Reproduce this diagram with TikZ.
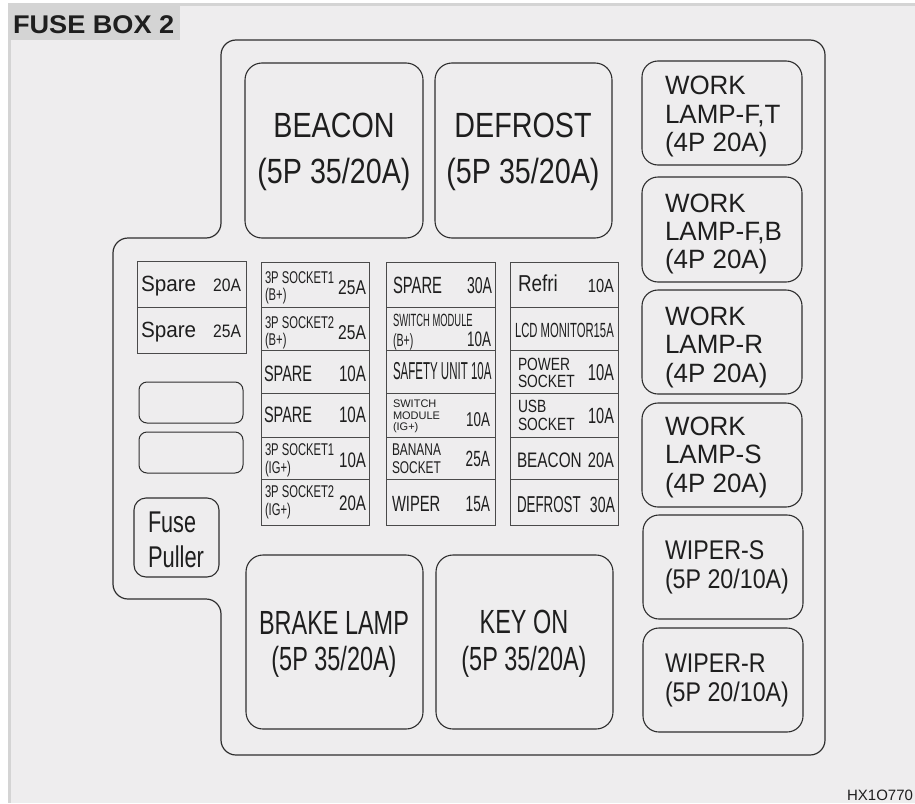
\documentclass[tikz,border=0pt]{standalone}
\usepackage{fontspec}
\usepackage{graphicx}
\setmainfont{Liberation Sans}
\newcommand\fsz[1]{\fontsize{#1}{#1}\selectfont}
\newcommand\sq[2]{\scalebox{#1}[1]{#2}}
\definecolor{bg}{HTML}{EEEDEE}
\definecolor{frame}{HTML}{D4D4D4}
\definecolor{ink}{HTML}{1E1E1E}
\definecolor{edge}{HTML}{2E2E2E}
\definecolor{celledge}{HTML}{4A4A4A}
\newcommand\lbl[6]{\node[txt,anchor=#1,font=\fsz{#4}] (#2) at (#3) {\sq{#5}{#6}};}
\begin{document}
\begin{tikzpicture}[x=1pt,y=-1pt,
  txt/.style={inner sep=0pt,outer sep=0pt,text=ink},
  outline/.style={draw=edge,line width=1.2pt},
  relay/.style={draw=edge,line width=1.1pt,rounded corners=17pt},
  lamp/.style={draw=edge,line width=1.1pt,rounded corners=16pt},
  cell/.style={draw=celledge,line width=0.9pt},
  blank/.style={draw=edge,line width=1pt,rounded corners=8pt}]
\useasboundingbox (0,0) rectangle (915,803);
% background and frame
\fill[white] (0,0) rectangle (915,803);
\fill[bg] (8,3) rectangle (915,803);
\fill[frame] (8,3) rectangle (915,5.5);
\fill[frame] (8,3) rectangle (10.5,803);
\fill[frame] (8,3) rectangle (180,40);
\node[txt,anchor=base west,font=\fsz{25.6}\bfseries] (title) at (13,33) {\sq{1.06}{FUSE BOX 2}};
% outer housing outline
\draw[outline,rounded corners=15pt] (500,40) -- (825,40) -- (825,755) -- (221,755) -- (221,599) -- (113,599) -- (113,238) -- (221,238) -- (221,40) -- cycle;
% big relays
\draw[relay] (245,63) rectangle (423,238);
\draw[relay] (435,63) rectangle (612,238);
\draw[relay] (246,555) rectangle (423,729);
\draw[relay] (436,555) rectangle (613,729);
\lbl{base}{beacA}{334,137}{35}{0.82}{BEACON}
\lbl{base}{beacB}{334,183}{35}{0.82}{(5P 35/20A)}
\lbl{base}{defA}{523,137}{35}{0.82}{DEFROST}
\lbl{base}{defB}{523,183}{35}{0.82}{(5P 35/20A)}
\lbl{base}{brkA}{334,634}{33.5}{0.70}{BRAKE LAMP}
\lbl{base}{brkB}{334,670}{33.5}{0.70}{(5P 35/20A)}
\lbl{base}{keyA}{524,633}{33.5}{0.70}{KEY ON}
\lbl{base}{keyB}{524,670}{33.5}{0.70}{(5P 35/20A)}
% right column relays
\draw[lamp] (642,61) rectangle (802,165);
\draw[lamp] (642,177) rectangle (802,282);
\draw[lamp] (642,290) rectangle (802,394);
\draw[lamp] (642,403) rectangle (802,507);
\draw[lamp] (643,515) rectangle (803,619);
\draw[lamp] (643,628) rectangle (803,732);
\lbl{base west}{w1a}{665,94}{26.5}{0.98}{WORK}
\lbl{base west}{w1b}{665,123}{26.5}{0.98}{LAMP-F,T}
\lbl{base west}{w1c}{665,151}{26.5}{0.98}{(4P 20A)}
\lbl{base west}{w2a}{665,212}{26.5}{0.98}{WORK}
\lbl{base west}{w2b}{665,240}{26.5}{0.98}{LAMP-F,B}
\lbl{base west}{w2c}{665,268}{26.5}{0.98}{(4P 20A)}
\lbl{base west}{w3a}{665,325}{26.5}{0.98}{WORK}
\lbl{base west}{w3b}{665,353}{26.5}{0.98}{LAMP-R}
\lbl{base west}{w3c}{665,382}{26.5}{0.98}{(4P 20A)}
\lbl{base west}{w4a}{665,435}{26.5}{0.98}{WORK}
\lbl{base west}{w4b}{665,463}{26.5}{0.98}{LAMP-S}
\lbl{base west}{w4c}{665,492}{26.5}{0.98}{(4P 20A)}
\lbl{base west}{wsA}{665,559}{27}{0.86}{WIPER-S}
\lbl{base west}{wsB}{665,588}{27}{0.86}{(5P 20/10A)}
\lbl{base west}{wrA}{665,672}{27}{0.86}{WIPER-R}
\lbl{base west}{wrB}{665,701}{27}{0.86}{(5P 20/10A)}
% spare block
\draw[cell] (137,261) rectangle (246,353);
\draw[cell] (137,307) -- (246,307);
\lbl{base west}{sp1}{141,291}{22}{0.94}{Spare}
\lbl{base east}{sp1a}{241,291}{18}{0.87}{20A}
\lbl{base west}{sp2}{141,337}{22}{0.94}{Spare}
\lbl{base east}{sp2a}{241,337}{18}{0.87}{25A}
% blanks and fuse puller
\draw[blank] (139,382) rectangle (243,423);
\draw[blank] (139,432) rectangle (243,473);
\draw[draw=edge,line width=1.1pt,rounded corners=12pt] (134,498) rectangle (219,577);
\lbl{base west}{fpA}{148,532}{30}{0.72}{Fuse}
\lbl{base west}{fpB}{148,567}{30}{0.73}{Puller}
% fuse column 1
\draw[cell] (261,262) rectangle (369,525);
\foreach \yy in {307,350,393,437,479} \draw[cell] (261,\yy) -- (369,\yy);
\lbl{base west}{a1}{265,283}{17}{0.66}{3P SOCKET1}
\lbl{base west}{a1b}{265,300}{17}{0.66}{(B+)}
\lbl{base east}{a1c}{366,294}{20}{0.78}{25A}
\lbl{base west}{a2}{265,328}{17}{0.66}{3P SOCKET2}
\lbl{base west}{a2b}{265,345}{17}{0.66}{(B+)}
\lbl{base east}{a2c}{366,339}{20}{0.78}{25A}
\lbl{base west}{a3}{264,381}{22.3}{0.65}{SPARE}
\lbl{base east}{a3c}{366,381}{22.3}{0.68}{10A}
\lbl{base west}{a4}{264,422}{22.3}{0.65}{SPARE}
\lbl{base east}{a4c}{366,422}{22.3}{0.68}{10A}
\lbl{base west}{a5}{265,455}{17}{0.66}{3P SOCKET1}
\lbl{base west}{a5b}{265,473}{17}{0.66}{(IG+)}
\lbl{base east}{a5c}{366,467}{21}{0.72}{10A}
\lbl{base west}{a6}{265,497}{17}{0.66}{3P SOCKET2}
\lbl{base west}{a6b}{265,515}{17}{0.66}{(IG+)}
\lbl{base east}{a6c}{366,510}{21}{0.72}{20A}
% fuse column 2
\draw[cell] (386,262) rectangle (495,525);
\foreach \yy in {307,350,393,437,479} \draw[cell] (386,\yy) -- (495,\yy);
\lbl{base west}{b1}{393,293}{23.5}{0.63}{SPARE}
\lbl{base east}{b1c}{492,293}{23}{0.61}{30A}
\lbl{base west}{b2}{393,326}{17.7}{0.53}{SWITCH MODULE}
\lbl{base west}{b2b}{393,346}{17.7}{0.60}{(B+)}
\lbl{base east}{b2c}{491,346}{21}{0.64}{10A}
\lbl{base west}{b3}{393,379}{24.5}{0.47}{SAFETY UNIT 10A}
\lbl{base west}{b4}{393,407}{11}{1}{SWITCH}
\lbl{base west}{b4b}{393,419}{11}{1}{MODULE}
\lbl{base west}{b4d}{393,430}{11}{1}{(IG+)}
\lbl{base east}{b4c}{490,426}{20}{0.67}{10A}
\lbl{base west}{b5}{392,455}{17}{0.70}{BANANA}
\lbl{base west}{b5b}{392,473}{17}{0.70}{SOCKET}
\lbl{base east}{b5c}{490,466}{22}{0.62}{25A}
\lbl{base west}{b6}{392,511}{22}{0.67}{WIPER}
\lbl{base east}{b6c}{490,511}{22}{0.62}{15A}
% fuse column 3
\draw[cell] (510,262) rectangle (618,525);
\foreach \yy in {307,350,393,437,479} \draw[cell] (510,\yy) -- (618,\yy);
\lbl{base west}{c1}{518,291}{23}{0.82}{Refri}
\lbl{base east}{c1c}{614,292}{19}{0.77}{10A}
\lbl{base west}{c2}{515,337}{20.5}{0.55}{LCD MONITOR15A}
\lbl{base west}{c3}{518,370}{17.7}{0.78}{POWER}
\lbl{base west}{c3b}{518,387}{17.7}{0.78}{SOCKET}
\lbl{base east}{c3c}{614,380}{23}{0.64}{10A}
\lbl{base west}{c4}{518,412}{17.7}{0.78}{USB}
\lbl{base west}{c4b}{518,430}{17.7}{0.78}{SOCKET}
\lbl{base east}{c4c}{614,423}{22}{0.66}{10A}
\lbl{base west}{c5}{517,467}{21}{0.73}{BEACON}
\lbl{base east}{c5c}{614,467}{21}{0.70}{20A}
\lbl{base west}{c6}{517,512}{23}{0.58}{DEFROST}
\lbl{base east}{c6c}{615,512}{22}{0.64}{30A}
% code
\lbl{base east}{code}{913,800}{15}{1}{HX1O770}
\end{tikzpicture}
\end{document}
